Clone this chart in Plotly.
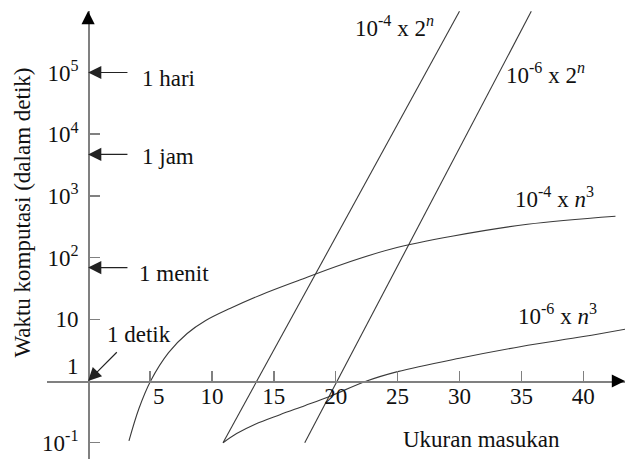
import numpy as np
import plotly.graph_objects as go

# ---- data (x = ukuran masukan n, y = waktu in detik) ----
n_a = [3.3, 4.1, 5.05, 6.5, 8.0, 9.5, 11.5, 14.0, 17.0, 20.5, 24.5, 29.5, 35.5, 42.6]
t_a = [0.107, 0.355, 1.0, 2.88, 5.89, 9.55, 15.1, 25.1, 42.7, 77.6, 138, 224, 347, 468]  # 10^-4 x n^3

n_b = [10.9, 12.0, 13.5, 15.5, 17.5, 19.4, 22.5, 25.0, 30.0, 35.0, 40.0, 43.4]
t_b = [0.1, 0.141, 0.2, 0.285, 0.398, 0.55, 1.0, 1.42, 2.34, 3.63, 5.25, 6.92]          # 10^-6 x n^3

n_c = [10.9, 30.0]
t_c = [0.1, 9.8e5]                                                                   # 10^-4 x 2^n

n_d = [17.5, 35.8]
t_d = [0.1, 9.8e5]                                                                   # 10^-6 x 2^n

x_ticks = [5, 10, 15, 20, 25, 30, 35, 40]
x_ticktext = ["&nbsp;&nbsp;&nbsp;5", "10", "15", "20", "25", "30", "35", "40"]
y_ticks = [0.1, 10, 100, 1e3, 1e4, 1e5]
y_ticktext = ["10<sup>-1</sup>", "10", "10<sup>2</sup>", "10<sup>3</sup>", "10<sup>4</sup>", "10<sup>5</sup>"]

# reference times marked with arrows on the y axis
mark_labels = ["1 hari", "1 jam", "1 menit"]
mark_values = [1e5, 4700, 69]

curve_labels = ["10<sup>-4</sup> x 2<sup><i>n</i></sup>", "10<sup>-6</sup> x 2<sup><i>n</i></sup>",
                "10<sup>-4</sup> x <i>n</i><sup>3</sup>", "10<sup>-6</sup> x <i>n</i><sup>3</sup>"]

FONT = "Liberation Serif, serif"
FS = 23
LINE = "#3a3a3a"
AX = "#808080"
TXT = "#111111"

fig = go.Figure()
for xs, ys, shp in [(n_a, t_a, "spline"), (n_b, t_b, "spline"), (n_c, t_c, "linear"), (n_d, t_d, "linear")]:
    fig.add_trace(go.Scatter(x=xs, y=ys, mode="lines", line=dict(color=LINE, width=1.1, shape=shp),
                             showlegend=False, hoverinfo="skip"))

L = np.log10
ann = []
# arrows pointing at the y axis
for lab, v in zip(mark_labels, mark_values):
    ann.append(dict(x=0, y=L(v), xref="x", yref="y", ax=3.3, ay=L(v), axref="x", ayref="y",
                    showarrow=True, arrowhead=2, arrowsize=2.2, arrowwidth=1.2, arrowcolor="#222",
                    text=""))
ann.append(dict(x=0, y=0, xref="x", yref="y", ax=2.44, ay=0.49, axref="x", ayref="y",
                showarrow=True, arrowhead=2, arrowsize=2.2, arrowwidth=1.2, arrowcolor="#222", text=""))
# text labels of the marks
for lab, (xx, yy) in zip(mark_labels + ["1 detik"], [(4.19, 4.9), (4.19, 3.64), (3.95, 1.74), (1.37, 0.75)]):
    ann.append(dict(x=xx, y=yy, xref="x", yref="y", text=lab, showarrow=False,
                    xanchor="left", yanchor="middle", font=dict(family=FONT, size=FS, color=TXT)))
# curve labels
for lab, (xx, yy) in zip(curve_labels, [(21.4, 5.75), (33.6, 4.98), (34.3, 2.98), (34.6, 1.08)]):
    ann.append(dict(x=xx, y=yy, xref="x", yref="y", text=lab, showarrow=False,
                    xanchor="left", yanchor="middle", font=dict(family=FONT, size=FS, color=TXT)))
# "1" label at the origin
ann.append(dict(x=-1.26, y=0.232, xref="x", yref="y", text="1", showarrow=False,
                xanchor="center", yanchor="middle", font=dict(family=FONT, size=FS, color=TXT)))
# axis titles
ann.append(dict(x=25.3, y=-0.94, xref="x", yref="y", text="Ukuran masukan", showarrow=False,
                xanchor="left", yanchor="middle", font=dict(family=FONT, size=FS, color=TXT)))
ann.append(dict(x=-0.0415, y=0.55, xref="paper", yref="paper", text="Waktu komputasi (dalam detik)",
                textangle=-90, showarrow=False, xanchor="center", yanchor="middle",
                font=dict(family=FONT, size=FS, color=TXT)))
# axis arrowheads
ann.append(dict(x=0, y=5.997, xref="x", yref="y", ax=0, ay=14, axref="pixel", ayref="pixel",
                showarrow=True, arrowhead=2, arrowsize=2.2, arrowwidth=1.2, arrowcolor="#000", text=""))
ann.append(dict(x=43.37, y=0, xref="x", yref="y", ax=-14, ay=0,
                showarrow=True, arrowhead=2, arrowsize=2.2, arrowwidth=1.2, arrowcolor="#000", text=""))

fig.update_layout(
    width=625, height=459, margin=dict(l=47, r=0, t=11, b=0, autoexpand=False),
    paper_bgcolor="white", plot_bgcolor="white", hovermode=False,
    font=dict(family=FONT, size=FS, color=TXT),
    annotations=ann,
    xaxis=dict(range=[-3.32, 43.37], showgrid=False, zeroline=False, showline=True, automargin=False,
               linecolor=AX, linewidth=1.5, ticks="inside", ticklen=10, tickwidth=1.5, tickcolor=AX,
               tickvals=x_ticks, ticktext=x_ticktext, anchor="free", position=0.1741,
               ticklabelstandoff=-6,
               tickfont=dict(family=FONT, size=FS, color=TXT)),
    yaxis=dict(type="log", range=[-1.264, 5.997], showgrid=False, zeroline=False, showline=True,
               automargin=False,
               linecolor=AX, linewidth=1.5, ticks="inside", ticklen=10, tickwidth=1.5, tickcolor=AX,
               tickvals=y_ticks, ticktext=y_ticktext, anchor="free", position=0.0711,
               ticklabelstandoff=5,
               tickfont=dict(family=FONT, size=FS, color=TXT)),
)

fig.write_html("out.html", config={"displayModeBar": False, "staticPlot": True},
               post_script="document.body.style.margin='0';")
